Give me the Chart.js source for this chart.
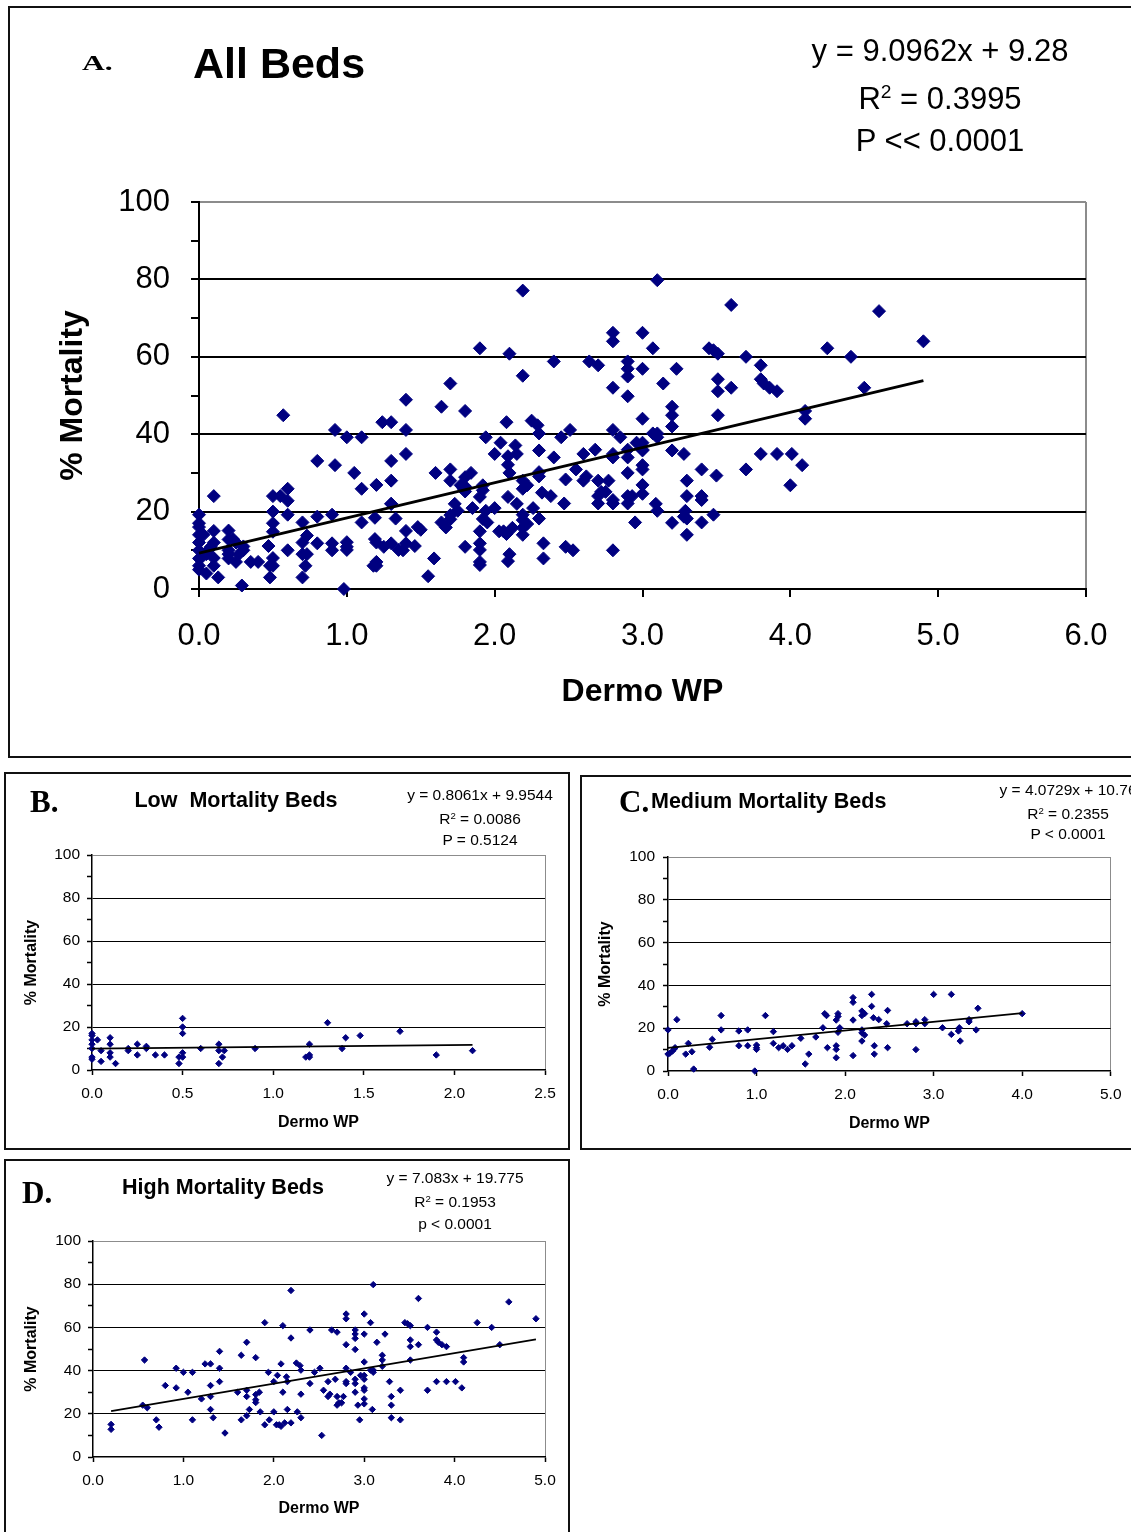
<!DOCTYPE html>
<html><head><meta charset="utf-8">
<script src="https://cdn.jsdelivr.net/npm/chart.js@4.4.1/dist/chart.umd.min.js"></script>
<style>
html,body{margin:0;padding:0;background:#fff;}
body{width:1131px;height:1532px;position:relative;overflow:hidden;font-family:"Liberation Sans",Arial,sans-serif;}
.box{position:absolute;border:2px solid #111;box-sizing:border-box;}
.wrap{position:absolute;}
.t{position:absolute;white-space:nowrap;line-height:1;color:#000;}
</style></head><body>
<script>
// ---------------- DATA ----------------
const lowBeds = [[0,17],[0,16],[0,14],[0,12],[0,10],[0,6],[0,5],[0.03,14],[0.05,9],[0.05,4],[0.1,15],[0.1,12],[0.1,8],[0.1,6],[0.13,3],[0.2,10],[0.2,9],[0.25,12],[0.25,7],[0.3,11],[0.3,10],[0.35,7],[0.4,7],[0.48,3],[0.48,6],[0.5,24],[0.5,20],[0.5,17],[0.5,8],[0.5,6],[0.6,10],[0.7,12],[0.7,9],[0.7,3],[0.73,9],[0.72,6],[0.9,10],[1.18,6],[1.2,12],[1.2,7],[1.2,6],[1.3,22],[1.38,10],[1.4,15],[1.48,16],[1.7,18],[1.9,7],[2.1,9]];

const mediumBeds = [[0,19.2],[0,7.9],[0.02,8.3],[0.05,9.3],[0.07,10.3],[0.08,10.9],[0.1,24],[0.2,7.9],[0.23,12.9],[0.27,9],[0.29,0.9],[0.47,11.1],[0.5,14.8],[0.6,25.9],[0.6,19.2],[0.8,18.7],[0.8,11.8],[0.9,19.2],[0.9,11.8],[0.98,0],[1.0,12.1],[1.0,10.9],[1.0,10.1],[1.1,25.9],[1.19,18.4],[1.19,12.9],[1.25,10.9],[1.3,11.8],[1.35,10.1],[1.4,11.8],[1.5,15.3],[1.55,3.3],[1.59,7.9],[1.67,15.9],[1.75,20.2],[1.77,26.8],[1.79,25.9],[1.8,10.9],[1.9,23.8],[1.9,11.8],[1.9,10.1],[1.9,6.2],[1.92,26.8],[1.92,25.5],[1.92,18.1],[1.94,20.2],[2.09,34.3],[2.09,32.1],[2.09,23.8],[2.09,7.2],[2.19,28],[2.19,25.9],[2.19,19.2],[2.19,17.8],[2.19,14],[2.22,26.8],[2.22,16.8],[2.3,35.8],[2.3,30.2],[2.32,24.9],[2.33,11.8],[2.33,7.9],[2.38,24],[2.48,28.3],[2.47,22.1],[2.48,10.9],[2.7,22.1],[2.8,23],[2.8,22.1],[2.8,10],[2.9,24],[2.9,22.1],[3.0,35.8],[3.1,20.2],[3.2,35.8],[3.2,17.1],[3.28,18.7],[3.29,20.2],[3.3,14],[3.4,24],[3.4,23],[3.48,19.2],[3.5,29.3],[4.0,26.8]];

const highBeds = [[0.2,15.1],[0.2,12.8],[0.55,24],[0.57,44.9],[0.6,22.8],[0.7,17.2],[0.73,13.8],[0.8,33.1],[0.92,41.1],[0.92,32],[1.0,39.2],[1.05,30],[1.1,39.2],[1.1,17.2],[1.2,26.9],[1.24,43.1],[1.3,43.1],[1.3,33.1],[1.3,28],[1.3,22],[1.33,18.2],[1.4,48.9],[1.4,41.1],[1.4,34.9],[1.46,11.1],[1.6,30],[1.64,47.1],[1.64,17.2],[1.7,53.1],[1.7,30.9],[1.7,28],[1.7,19.1],[1.73,22],[1.8,46],[1.8,28.9],[1.8,26.5],[1.8,25.2],[1.84,30],[1.85,20.9],[1.9,62.2],[1.9,14.9],[1.94,39.2],[1.95,17.2],[2.0,34.9],[2.0,20.9],[2.03,14.9],[2.04,37.8],[2.06,14.9],[2.08,43.1],[2.08,14.2],[2.1,60.8],[2.1,30],[2.12,15.8],[2.14,37.1],[2.15,34.9],[2.15,22],[2.19,77.1],[2.19,55.1],[2.19,15.8],[2.25,43.5],[2.26,20.9],[2.29,42.3],[2.3,40.2],[2.3,29.1],[2.3,18.2],[2.4,58.8],[2.4,34],[2.45,39.2],[2.51,41.1],[2.53,10],[2.55,30.9],[2.6,34.9],[2.6,28],[2.62,29.1],[2.64,58.8],[2.68,36],[2.7,57.8],[2.7,28],[2.7,24],[2.72,25.1],[2.75,25.1],[2.77,28],[2.8,66.2],[2.8,64],[2.8,52],[2.8,41.1],[2.8,34.9],[2.8,34],[2.85,39.2],[2.9,58.8],[2.9,56.9],[2.9,54.9],[2.9,49.8],[2.9,36],[2.9,34],[2.9,30],[2.93,24],[2.95,17.2],[2.96,37.8],[3.0,66.2],[3.0,56.9],[3.0,44],[3.0,37.8],[3.0,36],[3.0,32],[3.0,30.9],[3.0,26.9],[3.0,24.6],[3.07,62.2],[3.07,40.2],[3.09,22],[3.1,79.8],[3.1,40.2],[3.1,39.2],[3.14,53.1],[3.2,47.1],[3.2,44.9],[3.2,42],[3.23,56.9],[3.28,34.9],[3.3,28],[3.3,24],[3.3,18.2],[3.4,30.9],[3.4,17.2],[3.45,62.2],[3.48,61.7],[3.51,60.8],[3.51,54.2],[3.51,51.1],[3.51,44.9],[3.6,73.4],[3.6,52],[3.7,60],[3.7,30.9],[3.8,57.8],[3.8,54.2],[3.8,34.9],[3.82,53.1],[3.86,52],[3.91,51.1],[3.91,34.9],[4.01,34.9],[4.08,32],[4.1,46],[4.1,44],[4.25,62.2],[4.41,60],[4.5,52],[4.6,71.8],[4.9,64]];

const allBeds = lowBeds.concat(mediumBeds, highBeds);

// regression [slope, intercept] and x-range of fitted line
const fitA = [9.0962, 9.28],   rangeA = [0, 4.9];
const fitB = [0.8061, 9.9544], rangeB = [0, 2.1];
const fitC = [4.0729, 10.761], rangeC = [0, 4.0];
const fitD = [7.083, 19.775],  rangeD = [0.2, 4.9];

const xMaxA = 6, xMaxB = 2.5, xMaxC = 5, xMaxD = 5;
const xStepA = 1, xStepB = 0.5, xStepC = 1, xStepD = 1;

const eqA = ['y = 9.0962x + 9.28', 'R<sup>2</sup> = 0.3995', 'P &lt;&lt; 0.0001'];
const eqB = ['y = 0.8061x + 9.9544', 'R<sup>2</sup> = 0.0086', 'P = 0.5124'];
const eqC = ['y = 4.0729x + 10.76', 'R<sup>2</sup> = 0.2355', 'P &lt; 0.0001'];
const eqD = ['y = 7.083x + 19.775', 'R<sup>2</sup> = 0.1953', 'p &lt; 0.0001'];

// ---------------- DRAWING ----------------
const NAVY = '#000080', GREY = '#8c8c8c', CLEAR = 'rgba(0,0,0,0)';
const FAM = '"Liberation Sans", Arial, sans-serif';

function box(l, t, w, h, bw) {
  const d = document.createElement('div'); d.className = 'box';
  Object.assign(d.style, {left: l + 'px', top: t + 'px', width: w + 'px', height: h + 'px', borderWidth: bw + 'px'});
  document.body.appendChild(d);
}
function txt(html, x, y, size, o) {
  o = o || {};
  const d = document.createElement('div'); d.className = 't';
  d.innerHTML = html;
  d.style.fontSize = size + 'px';
  d.style.fontWeight = o.bold ? 'bold' : 'normal';
  d.style.fontFamily = o.serif ? '"Liberation Serif","Times New Roman",serif' : FAM;
  d.style.top = y + 'px';
  let tr = o.center ? 'translate(-50%,-50%)' : 'translate(0,-50%)';
  if (o.sx) { tr += ' scaleX(' + o.sx + ')'; d.style.transformOrigin = 'left center'; }
  d.style.transform = tr;
  d.style.left = x + 'px';
  document.body.appendChild(d);
}
function eqBlock(lines, cx, ys, size) {
  lines.forEach((s, i) => txt(s.replace('<sup>', '<sup style="font-size:0.62em;vertical-align:0.55em;line-height:0">'), cx, ys[i], size, {center: true}));
}

function panel(bx, pl, pts, fit, range, xmax, xstep, o) {
  const wrap = document.createElement('div'); wrap.className = 'wrap';
  Object.assign(wrap.style, {left: bx.l + 'px', top: bx.t + 'px', width: bx.w + 'px', height: bx.h + 'px'});
  const cv = document.createElement('canvas'); wrap.appendChild(cv); document.body.appendChild(wrap);
  const trend = range.map(x => ({x: x, y: fit[0] * x + fit[1]}));
  new Chart(cv, {
    type: 'scatter',
    data: {datasets: [
      {data: trend, showLine: true, borderColor: '#000', borderWidth: o.lw, pointRadius: 0, pointHoverRadius: 0, clip: false},
      {data: pts.map(p => ({x: p[0], y: p[1]})), pointStyle: 'rectRot', pointRadius: o.pr, pointHoverRadius: o.pr,
       backgroundColor: NAVY, borderColor: NAVY, borderWidth: 1, clip: false}
    ]},
    options: {
      responsive: true, maintainAspectRatio: false, animation: false, events: [],
      layout: {padding: {left: 0, top: pl.t - bx.t, right: bx.l + bx.w - pl.r, bottom: 0}},
      plugins: {legend: {display: false}, tooltip: {enabled: false}},
      scales: {
        x: {
          type: 'linear', min: 0, max: xmax,
          ticks: {stepSize: xstep, autoSkip: false, maxRotation: 0, color: '#000', padding: o.xpad,
                  font: {family: FAM, size: o.tick, lineHeight: 1.2}, callback: v => Number(v).toFixed(1)},
          grid: {drawOnChartArea: true, lineWidth: o.glw, tickWidth: o.alw, tickLength: o.tl, tickColor: '#000',
                 color: c => (c.tick && Math.abs(c.tick.value - xmax) < 1e-6) ? GREY : CLEAR},
          border: {display: true, color: '#000', width: o.alw},
          title: {display: true, text: 'Dermo WP', color: '#000', padding: {top: 0, bottom: o.xtp},
                  font: {family: FAM, size: o.title, weight: 'bold', lineHeight: 1.2}},
          afterFit: s => { s.height = bx.t + bx.h - pl.b; }
        },
        y: {
          type: 'linear', min: 0, max: 100,
          ticks: {stepSize: 10, autoSkip: false, color: '#000', padding: o.ypad,
                  font: {family: FAM, size: o.tick, lineHeight: 1.2},
                  callback: v => (Math.round(v) % 20 === 0 ? String(v) : '')},
          grid: {drawOnChartArea: true, lineWidth: o.glw, tickWidth: o.alw, tickLength: o.tl, tickColor: '#000',
                 color: c => {
                   if (!c.tick) return CLEAR;
                   const v = Math.round(c.tick.value);
                   if (v === 0) return CLEAR;
                   if (v === 100) return GREY;
                   return v % 20 === 0 ? '#000' : CLEAR;
                 }},
          border: {display: true, color: '#000', width: o.alw},
          title: {display: true, text: '% Mortality', color: '#000', padding: {top: o.ytp, bottom: 0},
                  font: {family: FAM, size: o.title, weight: 'bold', lineHeight: 1.2}},
          afterFit: s => { s.width = pl.l - bx.l; }
        }
      }
    }
  });
}

// frames
box(8, 6, 1140, 752, 2);
box(4, 772, 566, 378, 2);
box(580, 775, 560, 375, 2);
box(4, 1159, 566, 400, 2);

// A
panel({l: 8, t: 6, w: 1123, h: 751}, {l: 199, r: 1086, t: 202, b: 589}, allBeds, fitA, rangeA, xMaxA, xStepA,
      {tick: 31, tl: 8, ypad: 21, xpad: 21, title: 32, ytp: 46, xtp: 46, lw: 3, glw: 2, alw: 2, pr: 6.5});
// B
panel({l: 4, t: 772, w: 565, h: 377}, {l: 92, r: 545, t: 855, b: 1070}, lowBeds, fitB, rangeB, xMaxB, xStepB,
      {tick: 15.5, tl: 5, ypad: 7, xpad: 9.5, title: 16, ytp: 18, xtp: 17, lw: 1.8, glw: 1, alw: 1.5, pr: 3.2});
// C
panel({l: 580, t: 775, w: 551, h: 374}, {l: 668, r: 1121, t: 857, b: 1071}, mediumBeds, fitC, rangeC, xMaxC, xStepC,
      {tick: 15.5, tl: 5, ypad: 8, xpad: 9.5, title: 16, ytp: 16, xtp: 16, lw: 1.8, glw: 1, alw: 1.5, pr: 3.2});
// D
panel({l: 4, t: 1159, w: 565, h: 373}, {l: 93, r: 545, t: 1241, b: 1457}, highBeds, fitD, rangeD, xMaxD, xStepD,
      {tick: 15.5, tl: 5, ypad: 7, xpad: 9.5, title: 16, ytp: 18, xtp: 14, lw: 1.8, glw: 1, alw: 1.5, pr: 3.2});

// headings
txt('A.', 82, 63, 21, {bold: true, serif: true, sx: 1.5});
txt('All Beds', 193, 63, 43, {bold: true});
eqBlock(eqA, 940, [50, 98, 140], 31);

txt('B.', 30, 801, 31, {bold: true, serif: true});
txt('Low&nbsp; Mortality Beds', 236, 801, 21.5, {bold: true, center: true});
eqBlock(eqB, 480, [795, 819, 840], 15.5);

txt('C.', 619, 801, 31, {bold: true, serif: true});
txt('Medium Mortality Beds', 651, 802, 21.5, {bold: true});
eqBlock(eqC, 1068, [790, 814, 834], 15.5);

txt('D.', 22, 1192, 31, {bold: true, serif: true});
txt('High Mortality Beds', 223, 1188, 21.5, {bold: true, center: true});
eqBlock(eqD, 455, [1178, 1202, 1224], 15.5);
</script>
</body></html>
